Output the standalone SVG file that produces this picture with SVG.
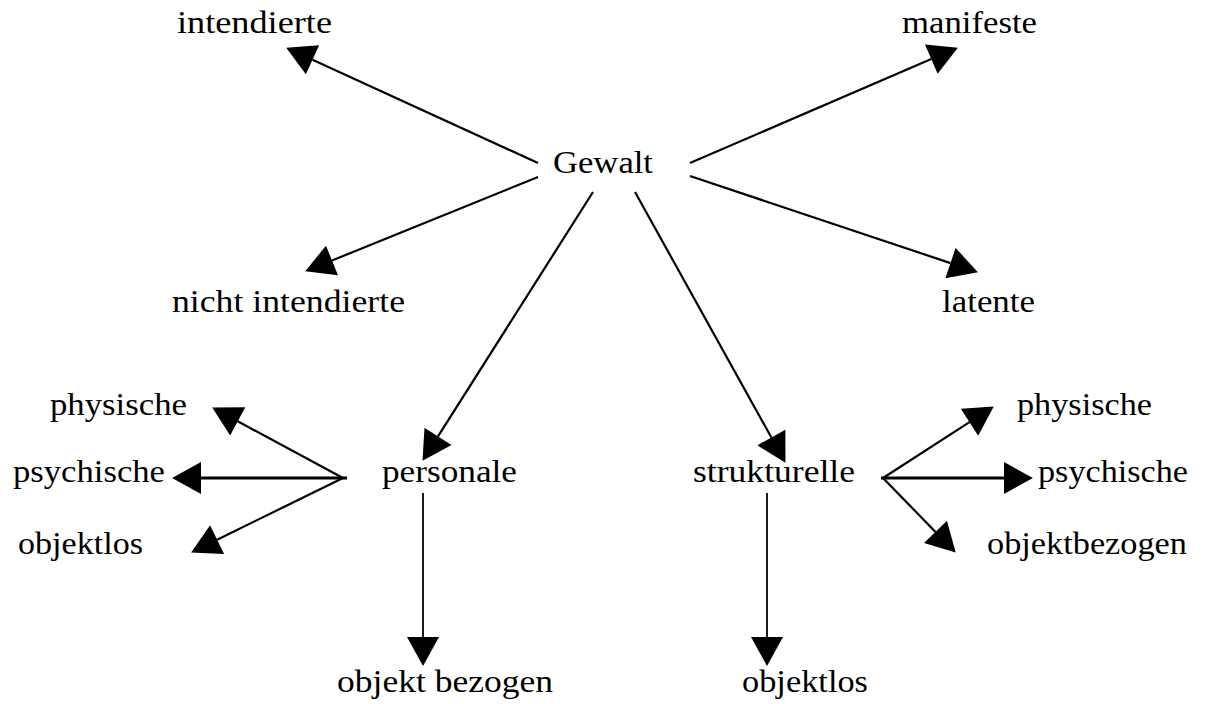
<svg xmlns="http://www.w3.org/2000/svg" width="1208" height="704" viewBox="0 0 1208 704">
<style>
text{font-family:"Liberation Serif","DejaVu Serif",serif;font-size:31px;fill:#000}
.c line{stroke:#000;stroke-width:2.2;fill:none;marker-end:url(#ah)}
.c line.v{stroke-width:1.8}
</style>
<defs>
<marker id="ah" markerUnits="userSpaceOnUse" markerWidth="30" markerHeight="32" refX="0" refY="15.5" orient="auto" viewBox="0 0 28 31">
<path d="M0,0 L28,15.5 L0,31 z" fill="#000"/>
</marker>
</defs>
<rect width="1208" height="704" fill="#fff"/>
<g id="n-gewalt"><text x="553" y="173" textLength="100" lengthAdjust="spacingAndGlyphs">Gewalt</text></g>
<g id="n-intendierte"><text x="177" y="33" textLength="155" lengthAdjust="spacingAndGlyphs">intendierte</text></g>
<g id="n-manifeste"><text x="902" y="33" textLength="135" lengthAdjust="spacingAndGlyphs">manifeste</text></g>
<g id="n-nicht-intendierte"><text x="172" y="312" textLength="233" lengthAdjust="spacingAndGlyphs">nicht intendierte</text></g>
<g id="n-latente"><text x="942" y="312" textLength="93" lengthAdjust="spacingAndGlyphs">latente</text></g>
<g id="n-personale"><text x="382" y="482" textLength="135" lengthAdjust="spacingAndGlyphs">personale</text></g>
<g id="n-strukturelle"><text x="693" y="482" textLength="162" lengthAdjust="spacingAndGlyphs">strukturelle</text></g>
<g id="n-p-physische"><text x="50" y="415" textLength="137" lengthAdjust="spacingAndGlyphs">physische</text></g>
<g id="n-p-psychische"><text x="13" y="482" textLength="152" lengthAdjust="spacingAndGlyphs">psychische</text></g>
<g id="n-p-objektlos"><text x="18" y="554" textLength="125" lengthAdjust="spacingAndGlyphs">objektlos</text></g>
<g id="n-p-objektbezogen"><text x="337" y="692" textLength="216" lengthAdjust="spacingAndGlyphs">objekt bezogen</text></g>
<g id="n-s-physische"><text x="1017" y="415" textLength="135" lengthAdjust="spacingAndGlyphs">physische</text></g>
<g id="n-s-psychische"><text x="1038" y="482" textLength="150" lengthAdjust="spacingAndGlyphs">psychische</text></g>
<g id="n-s-objektbezogen"><text x="987" y="554" textLength="200" lengthAdjust="spacingAndGlyphs">objektbezogen</text></g>
<g id="n-s-objektlos"><text x="742" y="692" textLength="126" lengthAdjust="spacingAndGlyphs">objektlos</text></g>
<g id="connectors" class="c">
<line x1="538" y1="163" x2="312.5" y2="59.7"/>
<line x1="538" y1="177" x2="332" y2="260.5"/>
<line x1="690" y1="163" x2="931.3" y2="59.1"/>
<line x1="690" y1="176" x2="950.5" y2="263.1"/>
<line x1="593" y1="192" x2="438" y2="436.4"/>
<line x1="635" y1="192" x2="771.4" y2="437.5"/>
<line x1="343" y1="478" x2="237.7" y2="421.3"/>
<line x1="347" y1="478" x2="201" y2="478" style="stroke-width:3"/>
<line x1="343" y1="478" x2="217.1" y2="539.7"/>
<line class="v" x1="423" y1="493" x2="423" y2="637"/>
<line x1="883" y1="478" x2="969.5" y2="422.2"/>
<line x1="881" y1="478" x2="1004" y2="478" style="stroke-width:3"/>
<line x1="883" y1="478" x2="935.5" y2="531.9"/>
<line class="v" x1="767" y1="493" x2="767" y2="637"/>
</g>
</svg>
